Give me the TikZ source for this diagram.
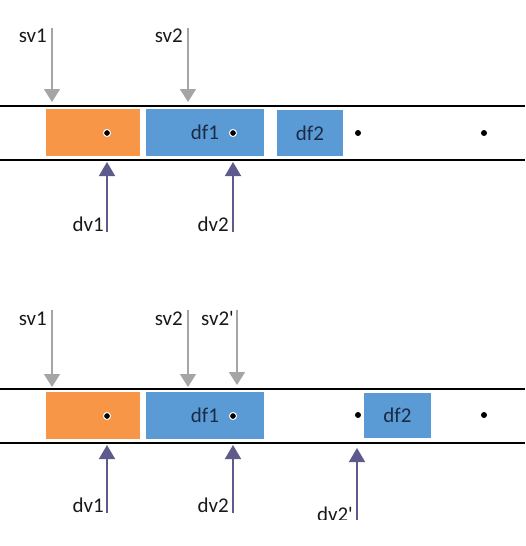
\documentclass[tikz,border=0pt]{standalone}
\usepackage{fontspec}
\setmainfont{Carlito}
\usetikzlibrary{arrows.meta}
\definecolor{orng}{HTML}{F79646}
\definecolor{blu}{HTML}{5B9BD5}
\definecolor{gry}{HTML}{A5A5A5}
\definecolor{purp}{HTML}{5F5A8C}
\definecolor{navy}{HTML}{1B2A45}
\begin{document}
\begin{tikzpicture}[x=1pt,y=-1pt,
  lane/.style={line width=1.3pt, draw=black},
  slot/.style={inner sep=0pt, minimum height=47pt, font=\fontsize{21}{24}\selectfont, text=navy},
  oslot/.style={slot, fill=orng},
  bslot/.style={slot, fill=blu},
  pt/.style={circle, fill=black, draw=white, line width=1pt, minimum size=7pt, inner sep=0pt},
  bpt/.style={circle, fill=black, minimum size=6pt, inner sep=0pt},
  lbl/.style={inner sep=0pt, font=\fontsize{21}{24}\selectfont, text=black!90},
  sarrow/.style={draw=gry, line width=1.6pt, -{Triangle[width=16pt,length=13pt]}},
  darrow/.style={draw=purp, line width=1.6pt, -{Triangle[width=16pt,length=14pt]}}]
\useasboundingbox (0,0) rectangle (525,546);

% ---------- top panel ----------
\coordinate (tl1) at (0,106); \coordinate (tr1) at (525,106);
\coordinate (bl1) at (0,160); \coordinate (br1) at (525,160);
\draw[lane] (tl1) -- (tr1);
\draw[lane] (bl1) -- (br1);
\node[oslot, minimum width=94pt] (o1) at (93,132.5) {};
\node[bslot, minimum width=118pt] (a1) at (205,132.5) {df1};
\node[bslot, minimum width=66pt, minimum height=46pt] (b1) at (310,133) {df2};
\node[pt] (p1) at (107,133) {};
\node[pt] (p2) at (233,133) {};
\node[bpt] (p3) at (358,133) {};
\node[bpt] (p4) at (484,133) {};

\coordinate (s1a) at (52,28);  \coordinate (s1b) at (52,102);
\coordinate (s2a) at (188,28); \coordinate (s2b) at (188,102);
\draw[sarrow] (s1a) -- (s1b);
\draw[sarrow] (s2a) -- (s2b);
\node[lbl, anchor=base east] (ls1) at (47,42) {sv1};
\node[lbl, anchor=base east] (ls2) at (183,42) {sv2};

\coordinate (d1a) at (107,232); \coordinate (d1b) at (107,162);
\coordinate (d2a) at (233,232); \coordinate (d2b) at (233,162);
\draw[darrow] (d1a) -- (d1b);
\draw[darrow] (d2a) -- (d2b);
\node[lbl, anchor=base east] (ld1) at (104,231) {dv1};
\node[lbl, anchor=base east] (ld2) at (229,231) {dv2};

% ---------- bottom panel ----------
\coordinate (tl2) at (0,389); \coordinate (tr2) at (525,389);
\coordinate (bl2) at (0,443); \coordinate (br2) at (525,443);
\draw[lane] (tl2) -- (tr2);
\draw[lane] (bl2) -- (br2);
\node[oslot, minimum width=94pt] (o2) at (93,415.5) {};
\node[bslot, minimum width=118pt] (a2) at (205,415.5) {df1};
\node[bslot, minimum width=67pt, minimum height=45pt] (b2) at (397.5,415.5) {df2};
\node[pt] (q1) at (107,416) {};
\node[pt] (q2) at (233,416) {};
\node[bpt] (q3) at (358,415) {};
\node[bpt] (q4) at (484,415) {};

\coordinate (t1a) at (52,310);  \coordinate (t1b) at (52,387);
\coordinate (t2a) at (188,310); \coordinate (t2b) at (188,387);
\coordinate (t3a) at (237,310); \coordinate (t3b) at (237,385);
\draw[sarrow] (t1a) -- (t1b);
\draw[sarrow] (t2a) -- (t2b);
\draw[sarrow] (t3a) -- (t3b);
\node[lbl, anchor=base east] (lt1) at (47,325) {sv1};
\node[lbl, anchor=base east] (lt2) at (183,325) {sv2};
\node[lbl, anchor=base east] (lt3) at (234,325) {sv2\textquotesingle};

\coordinate (e1a) at (107,513); \coordinate (e1b) at (107,445);
\coordinate (e2a) at (233,513); \coordinate (e2b) at (233,445);
\coordinate (e3a) at (357,520); \coordinate (e3b) at (357,448);
\draw[darrow] (e1a) -- (e1b);
\draw[darrow] (e2a) -- (e2b);
\draw[darrow] (e3a) -- (e3b);
\node[lbl, anchor=base east] (le1) at (104,512) {dv1};
\node[lbl, anchor=base east] (le2) at (229,512) {dv2};
\begin{scope}
  \clip (300,490) rectangle (356,519);
  \node[lbl, anchor=base east] (le3) at (353,521) {dv2\textquotesingle};
\end{scope}
\end{tikzpicture}
\end{document}
